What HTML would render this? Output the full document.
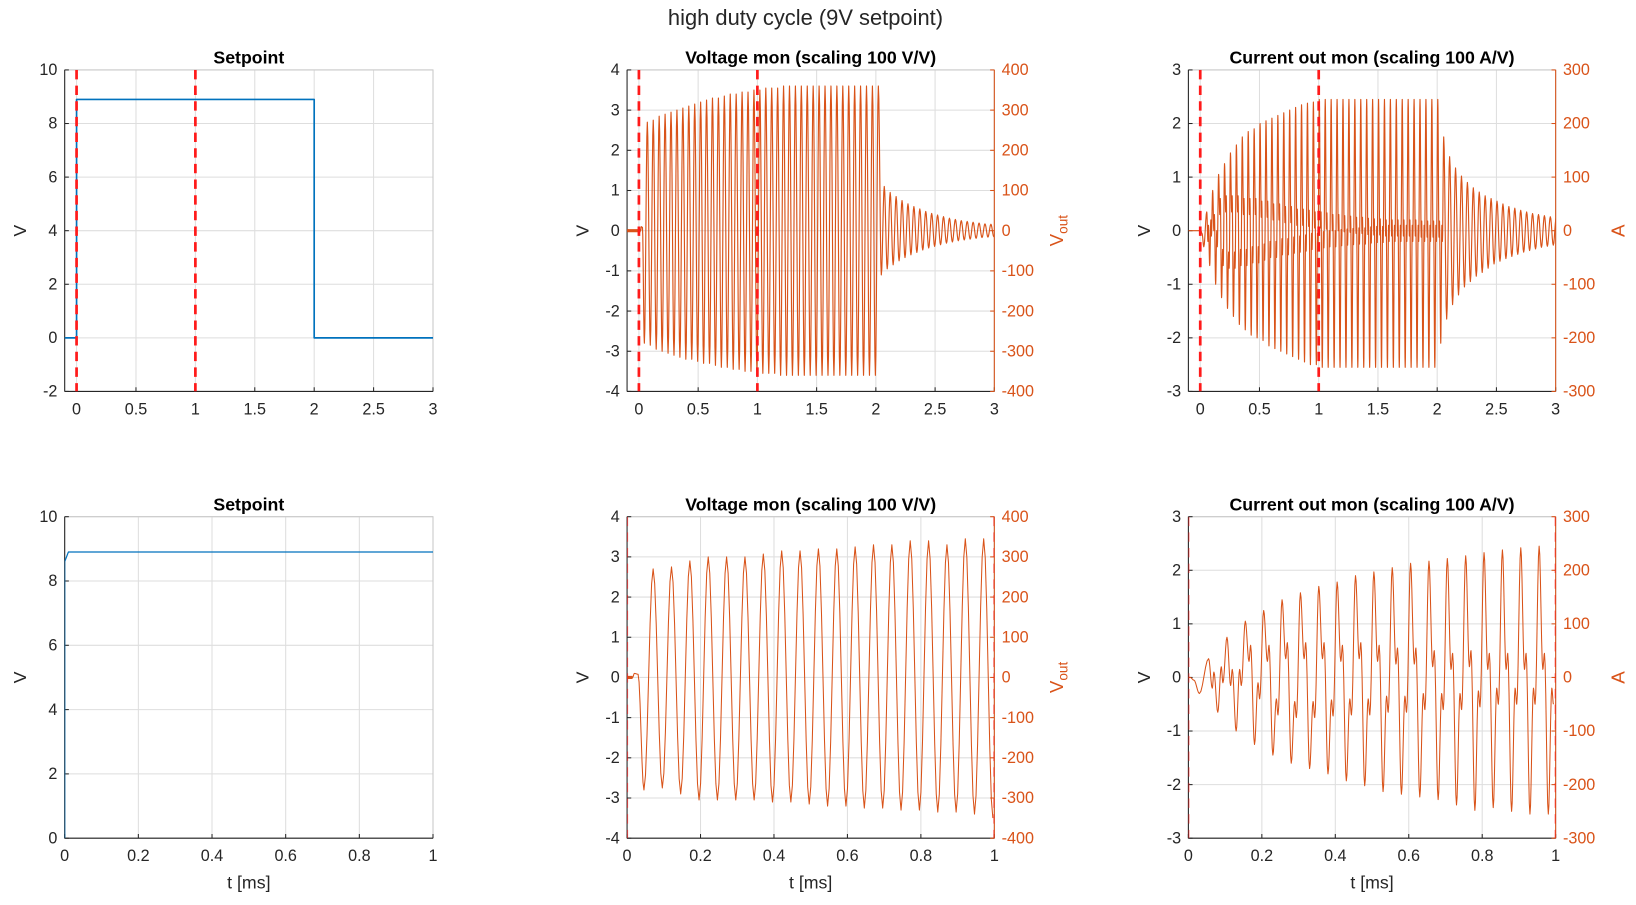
<!DOCTYPE html>
<html><head><meta charset="utf-8"><style>
html,body{margin:0;padding:0;background:#fff;}
svg{display:block;font-family:"Liberation Sans",Arial,sans-serif;}
</style></head><body>
<svg id="fig" width="1636" height="905" viewBox="0 0 1568 867" preserveAspectRatio="none">
<rect width="1568" height="867" fill="#fff"/>
<text x="772" y="24" font-size="21" text-anchor="middle" fill="#262626">high duty cycle (9V setpoint)</text>
</svg>
<script>
// ---------- data ----------
const setLevel = 8.9;
const setOnT = 0, setOffT = 2.0;
const period = 0.05;
const vBotTrT0 = 0.046, vBotPkT0 = 0.071;
const vBotPk = [2.7,2.75,2.9,3.0,3.0,3.0,3.07,3.15,3.15,3.2,3.2,3.25,3.3,3.3,3.4,3.4,3.3,3.45,3.45];
const vBotTr = [-2.8,-2.75,-2.9,-3.05,-3.05,-3.05,-3.05,-3.1,-3.1,-3.15,-3.2,-3.2,-3.25,-3.25,-3.3,-3.3,-3.35,-3.35,-3.4,-3.5];
const vTopPk = [2.7,2.75,2.85,2.9,2.95,3.0,3.05,3.1,3.15,3.2,3.25,3.3,3.3,3.35,3.4,3.4,3.45,3.45,3.5,3.5,
 3.55,3.55,3.55,3.6,3.6,3.6,3.6,3.6,3.6,3.6,3.6,3.6,3.6,3.6,3.6,3.6,3.6,3.6,3.6,3.6,
 1.1,0.95,0.85,0.75,0.67,0.6,0.54,0.48,0.43,0.39,0.35,0.31,0.28,0.25,0.23,0.21,0.19,0.17,0.16,0.15];
const vTopTr = [-2.8,-2.85,-2.95,-3.0,-3.05,-3.1,-3.15,-3.2,-3.2,-3.25,-3.3,-3.3,-3.35,-3.4,-3.4,-3.45,-3.45,-3.5,-3.5,-3.5,
 -3.55,-3.55,-3.55,-3.6,-3.6,-3.6,-3.6,-3.6,-3.6,-3.6,-3.6,-3.6,-3.6,-3.6,-3.6,-3.6,-3.6,-3.6,-3.6,-3.6,
 -1.1,-0.95,-0.85,-0.75,-0.67,-0.6,-0.54,-0.48,-0.43,-0.39,-0.35,-0.31,-0.28,-0.25,-0.23,-0.21,-0.19,-0.17,-0.16,-0.15];
const cPkT0 = 0.055;
const cBotPk = [0.35,0.75,1.05,1.25,1.45,1.58,1.7,1.78,1.9,1.97,2.05,2.13,2.17,2.22,2.27,2.33,2.38,2.42,2.45];
const cBotTr = [-0.65,-1.0,-1.25,-1.45,-1.6,-1.7,-1.8,-1.93,-2.02,-2.13,-2.18,-2.23,-2.28,-2.38,-2.48,-2.43,-2.5,-2.55,-2.55];
const cBotHi = [0.1,0.15,0.6,0.6,0.65,0.65,0.65,0.6,0.65,0.6,0.55,0.55,0.5,0.45,0.5,0.45,0.45,0.45,0.45];
const cBotLo = [-0.1,-0.15,-0.4,-0.7,-0.75,-0.75,-0.72,-0.7,-0.7,-0.65,-0.65,-0.6,-0.6,-0.6,-0.55,-0.5,-0.5,-0.5,-0.5];
const cTopPk = [0.35,0.75,1.05,1.25,1.45,1.6,1.75,1.85,1.9,2.0,2.05,2.1,2.15,2.2,2.25,2.3,2.35,2.38,2.4,2.45,
 2.45,2.45,2.45,2.45,2.45,2.45,2.45,2.45,2.45,2.45,2.45,2.45,2.45,2.45,2.45,2.45,2.45,2.45,2.45,2.45,
 1.75,1.38,1.17,1.02,0.9,0.8,0.72,0.65,0.6,0.55,0.5,0.45,0.42,0.38,0.35,0.32,0.3,0.28,0.26,0.25];
const cTopTr = [-0.65,-1.0,-1.25,-1.45,-1.6,-1.75,-1.85,-1.95,-2.0,-2.05,-2.15,-2.2,-2.25,-2.3,-2.35,-2.4,-2.45,-2.5,-2.5,-2.55,
 -2.55,-2.55,-2.55,-2.55,-2.55,-2.55,-2.55,-2.55,-2.55,-2.55,-2.55,-2.55,-2.55,-2.55,-2.55,-2.55,-2.55,-2.55,-2.55,-2.1,
 -1.65,-1.38,-1.2,-1.05,-0.95,-0.85,-0.78,-0.7,-0.62,-0.57,-0.52,-0.48,-0.44,-0.4,-0.37,-0.34,-0.31,-0.29,-0.27,-0.25];
const cTopHi = [0.1,0.3,0.6,0.65,0.65,0.65,0.6,0.6,0.6,0.55,0.55,0.5,0.5,0.45,0.45,0.4,0.4,0.38,0.35,0.35,
 0.33,0.3,0.3,0.28,0.27,0.25,0.25,0.23,0.22,0.22,0.2,0.2,0.2,0.2,0.2,0.2,0.18,0.18,0.18,0.18];
const cTopLo = [-0.1,-0.3,-0.65,-0.7,-0.7,-0.65,-0.65,-0.6,-0.6,-0.55,-0.5,-0.5,-0.45,-0.45,-0.42,-0.4,-0.38,-0.35,-0.35,-0.32,
 -0.3,-0.3,-0.28,-0.27,-0.26,-0.25,-0.25,-0.23,-0.22,-0.22,-0.2,-0.2,-0.2,-0.2,-0.2,-0.2,-0.2,-0.2,-0.2,-0.2];
const markerTopT = [0, 1];
const markerBotT = [0, 1];
const xTicksTop = [0,0.5,1,1.5,2,2.5,3];
const xTicksBot = [0,0.2,0.4,0.6,0.8,1];

// ---------- helpers ----------
const NS = "http://www.w3.org/2000/svg";
const svg = document.getElementById('fig');
const ORANGE = "#D95319", BLUE = "#0072BD", AX = "#262626";
const FS = 15.5;
function mk(tag, attrs, parent){ const e = document.createElementNS(NS, tag); for (const k in attrs) e.setAttribute(k, attrs[k]); (parent||svg).appendChild(e); return e; }
function fmt(v){ return String(Math.round(v*100)/100); }
let clipId = 0;
function makeAxes(p){
  const g = mk('g', {});
  
  
  const sx = t => p.x0 + (t - p.xmin)/(p.xmax - p.xmin)*(p.x1 - p.x0);
  const sy = v => p.y1 - (v - p.ymin)/(p.ymax - p.ymin)*(p.y1 - p.y0);
  p.xticks.forEach(t => { const l = mk('line', {x1:sx(t), x2:sx(t), y1:p.y0, y2:p.y1, stroke:"#dedede", 'stroke-width':1}, g);
      });
  for (let v = p.ymin; v <= p.ymax + 1e-9; v += p.ystep) { const l = mk('line', {x1:p.x0, x2:p.x1, y1:sy(v), y2:sy(v), stroke:"#dedede", 'stroke-width':1}, g);
      }
  mk('rect', {x:p.x0, y:p.y0, width:p.x1-p.x0, height:p.y1-p.y0, fill:"none", stroke:"#c8c8c8", 'stroke-width':1}, g);
  const xa = mk('line', {x1:p.x0, x2:p.x1, y1:p.y1, y2:p.y1, stroke:AX, 'stroke-width':1}, g);
   
  const ya = mk('line', {x1:p.x0, x2:p.x0, y1:p.y0, y2:p.y1, stroke:AX, 'stroke-width':1}, g);
   
  p.xticks.forEach(t => {
    mk('line', {x1:sx(t), x2:sx(t), y1:p.y1, y2:p.y1-4, stroke:AX}, g);
    const tx = mk('text', {x:sx(t), y:p.y1+22, 'font-size':FS, 'text-anchor':'middle', fill:AX}, g);
    tx.textContent = fmt(t);
     
  });
  for (let v = p.ymin; v <= p.ymax + 1e-9; v += p.ystep) {
    mk('line', {x1:p.x0, x2:p.x0+4, y1:sy(v), y2:sy(v), stroke:AX}, g);
    const tx = mk('text', {x:p.x0-7, y:sy(v)+5, 'font-size':FS, 'text-anchor':'end', fill:AX}, g);
    tx.textContent = fmt(v);
     
  }
  const yl = mk('text', {x:0, y:0, 'font-size':17, 'text-anchor':'middle', fill:AX, transform:`translate(${p.x0-37},${(p.y0+p.y1)/2}) rotate(-90)`}, g);
  yl.textContent = 'V';
   
  if (p.right) {
    const ra = mk('line', {x1:p.x1, x2:p.x1, y1:p.y0, y2:p.y1, stroke:ORANGE, 'stroke-width':1}, g);
     
    for (let v = -p.right; v <= p.right; v += 100) {
      const yy = p.y1 - (v + p.right)/(2*p.right)*(p.y1-p.y0);
      mk('line', {x1:p.x1, x2:p.x1-4, y1:yy, y2:yy, stroke:ORANGE}, g);
      const tx = mk('text', {x:p.x1+7, y:yy+5, 'font-size':FS, 'text-anchor':'start', fill:ORANGE}, g);
      tx.textContent = String(v);
       
    }
    const rl = mk('text', {x:0, y:0, 'font-size':18, 'text-anchor':'middle', fill:ORANGE, transform:`translate(${p.x1+66},${(p.y0+p.y1)/2}) rotate(-90)`}, g);
    if (p.rlabel === 'Vout') { rl.textContent = 'V'; const s = mk('tspan', {'font-size':13, dy:4}, rl); s.textContent = 'out'; }
    else rl.textContent = p.rlabel;
     
  }
  const tt = mk('text', {x:(p.x0+p.x1)/2, y:p.y0-6, 'font-size':17, 'font-weight':'bold', 'text-anchor':'middle', fill:"#000"}, g);
  tt.textContent = p.title;
   
  if (p.xlabel) {
    const xl = mk('text', {x:(p.x0+p.x1)/2, y:p.y1+48, 'font-size':17, 'text-anchor':'middle', fill:AX}, g);
    xl.textContent = 't [ms]';
     
  }
  const id = 'clip' + (clipId++);
  const cp = mk('clipPath', {id:id}, g);
  mk('rect', {x:p.x0, y:p.y0, width:p.x1-p.x0, height:p.y1-p.y0}, cp);
  const plot = mk('g', {'clip-path':`url(#${id})`}, g);
  return {sx, sy, plot, p};
}
function smoothPath(ax, pts){
  let d = '';
  for (let i = 0; i < pts.length; i++) {
    if (i === 0) { d += `M${ax.sx(pts[0][0]).toFixed(2)},${ax.sy(pts[0][1]).toFixed(2)}`; continue; }
    const [t0, v0] = pts[i-1], [t1, v1] = pts[i];
    const n = 6;
    for (let s = 1; s <= n; s++) {
      const f = s/n, w = (1 - Math.cos(Math.PI*f))/2;
      d += `L${ax.sx(t0+(t1-t0)*f).toFixed(2)},${ax.sy(v0+(v1-v0)*w).toFixed(2)}`;
    }
  }
  return d;
}
function voltagePts(pk, tr, xmin, tEnd){
  const pts = [[xmin,0],[0.015,0],[0.02,0.1],[0.03,0.08]];
  for (let k = 0; k < tr.length; k++) {
    pts.push([vBotTrT0 + k*period, tr[k]]);
    if (k < pk.length) pts.push([vBotPkT0 + k*period, pk[k]]);
  }
  return pts.filter(q => q[0] <= tEnd);
}
function currentPts(pk, tr, hi, lo, xmin, tEnd){
  const pts = [[xmin,0],[0.005,0],[0.015,-0.05],[0.03,-0.3]];
  for (let k = 0; k < pk.length; k++) {
    const t = cPkT0 + k*period;
    pts.push([t, pk[k]]);
    if (hi[k] !== undefined) { pts.push([t+0.2*period, hi[k]-0.3]); pts.push([t+0.29*period, hi[k]]); }
    pts.push([t+0.5*period, tr[k]]);
    if (lo[k] !== undefined) { pts.push([t+0.69*period, lo[k]+0.3]); pts.push([t+0.78*period, lo[k]]); }
  }
  return pts.filter(q => q[0] <= tEnd);
}
function drawLine(ax, d, color, w, name){
  const e = mk('path', {d:d, fill:'none', stroke:color, 'stroke-width':w, 'stroke-linejoin':'round'}, ax.plot);
  
  
}
function drawMarkers(ax, ts, op){
  ts.forEach(t => {
    const l = mk('line', {x1:ax.sx(t), x2:ax.sx(t), y1:ax.p.y0, y2:ax.p.y1, stroke:'#ff1a1a', 'stroke-width':op ? 2 : 2.6, 'stroke-dasharray':'9,6', opacity:op || 1}, ax.plot);
    
    
  });
}

// ---------- panels ----------
const topCfg = {y0:67, y1:375, xmin:-0.1, xmax:3, xticks:xTicksTop};
const botCfg = {y0:495, y1:803, xmin:0, xmax:1, xticks:xTicksBot, xlabel:true};

let a = makeAxes(Object.assign({name:'setpoint-top-axes', title:'Setpoint', x0:62, x1:415, ymin:-2, ymax:10, ystep:2}, topCfg));
drawLine(a, `M${a.sx(-0.1)},${a.sy(0)}L${a.sx(setOnT)},${a.sy(0)}L${a.sx(setOnT)},${a.sy(setLevel)}L${a.sx(setOffT)},${a.sy(setLevel)}L${a.sx(setOffT)},${a.sy(0)}L${a.sx(3)},${a.sy(0)}`, BLUE, 1.6, 'setpoint-line');
drawMarkers(a, markerTopT);

a = makeAxes(Object.assign({name:'voltage-top-axes', title:'Voltage mon (scaling 100 V/V)', x0:601, x1:953, ymin:-4, ymax:4, ystep:1, right:400, rlabel:'Vout'}, topCfg));
drawLine(a, smoothPath(a, voltagePts(vTopPk, vTopTr, -0.1, 3.1)), ORANGE, 1.1, 'voltage-line');
drawLine(a, `M${a.sx(-0.1)},${a.sy(0)}L${a.sx(0.015)},${a.sy(0)}`, ORANGE, 3, 'voltage-pre-segment');
drawMarkers(a, markerTopT);

a = makeAxes(Object.assign({name:'current-top-axes', title:'Current out mon (scaling 100 A/V)', x0:1139, x1:1491, ymin:-3, ymax:3, ystep:1, right:300, rlabel:'A'}, topCfg));
drawLine(a, smoothPath(a, currentPts(cTopPk, cTopTr, cTopHi, cTopLo, -0.1, 3.1)), ORANGE, 1.1, 'current-line');
drawMarkers(a, markerTopT);

a = makeAxes(Object.assign({name:'setpoint-bottom-axes', title:'Setpoint', x0:62, x1:415, ymin:0, ymax:10, ystep:2}, botCfg));
drawLine(a, `M${a.sx(0)},${a.sy(0)}L${a.sx(0)},${a.sy(8.6)}L${a.sx(0.01)},${a.sy(setLevel)}L${a.sx(1)},${a.sy(setLevel)}`, BLUE, 1.2, 'setpoint-line');

a = makeAxes(Object.assign({name:'voltage-bottom-axes', title:'Voltage mon (scaling 100 V/V)', x0:601, x1:953, ymin:-4, ymax:4, ystep:1, right:400, rlabel:'Vout'}, botCfg));
drawLine(a, smoothPath(a, voltagePts(vBotPk, vBotTr, 0, 1.05)), ORANGE, 1, 'voltage-line');
drawLine(a, `M${a.sx(0)},${a.sy(0)}L${a.sx(0.015)},${a.sy(0)}`, ORANGE, 3, 'voltage-pre-segment');
drawMarkers(a, markerBotT, 0.6);

a = makeAxes(Object.assign({name:'current-bottom-axes', title:'Current out mon (scaling 100 A/V)', x0:1139, x1:1491, ymin:-3, ymax:3, ystep:1, right:300, rlabel:'A'}, botCfg));
drawLine(a, smoothPath(a, currentPts(cBotPk, cBotTr, cBotHi, cBotLo, 0, 1.05)), ORANGE, 1, 'current-line');
drawMarkers(a, markerBotT, 0.6);
</script>
</body></html>
